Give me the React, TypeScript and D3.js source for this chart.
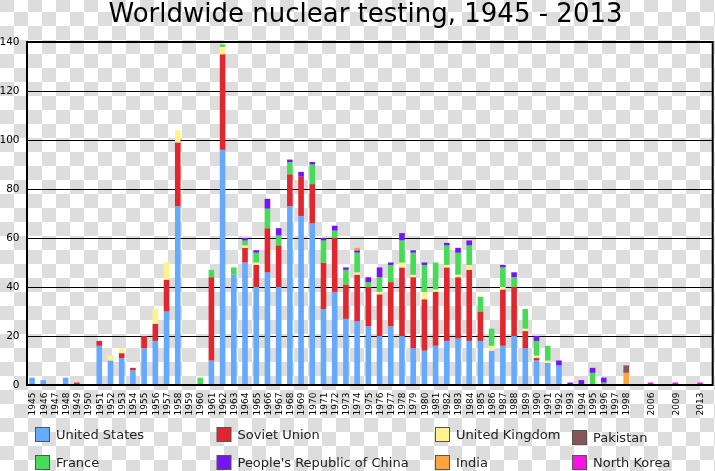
import React from "react";
import * as d3 from "d3";

const years = [
  "1945", "1946", "1947", "1948", "1949", "1950", "1951", "1952", "1953", "1954",
  "1955", "1956", "1957", "1958", "1959", "1960", "1961", "1962", "1963", "1964",
  "1965", "1966", "1967", "1968", "1969", "1970", "1971", "1972", "1973", "1974",
  "1975", "1976", "1977", "1978", "1979", "1980", "1981", "1982", "1983", "1984",
  "1985", "1986", "1987", "1988", "1989", "1990", "1991", "1992", "1993", "1994",
  "1995", "1996", "1997", "1998", "2006", "2009", "2013",
];

// 1945 .. 1998, 2006, 2009, 2013
const unitedStates = [
  3, 2, 0, 3, 0, 0, 16, 10, 11, 6,
  15, 18, 30, 73, 0, 0, 10, 96, 45, 50,
  40, 46, 40, 73, 69, 66, 31, 38, 27, 26,
  24, 20, 24, 20, 15, 14, 16, 18, 19, 18,
  18, 14, 16, 20, 15, 10, 9, 8, 0, 0,
  0, 0, 0, 0, 0, 0, 0,
];
const sovietUnion = [
  0, 0, 0, 0, 1, 0, 2, 0, 2, 1,
  5, 7, 13, 26, 0, 0, 34, 39, 0, 6,
  9, 18, 17, 13, 16, 16, 19, 22, 14, 19,
  16, 17, 18, 28, 29, 21, 22, 30, 25, 29,
  12, 0, 23, 20, 7, 1, 0, 0, 0, 0,
  0, 0, 0, 0, 0, 0, 0,
];
const unitedKingdom = [
  0, 0, 0, 0, 0, 0, 0, 2, 2, 0,
  0, 6, 7, 5, 0, 0, 0, 3, 0, 1,
  1, 0, 0, 0, 0, 0, 0, 0, 0, 1,
  0, 1, 0, 2, 1, 3, 1, 1, 1, 2,
  0, 2, 1, 0, 1, 1, 1, 0, 0, 0,
  0, 0, 0, 0, 0, 0, 0,
];
const france = [
  0, 0, 0, 0, 0, 0, 0, 0, 0, 0,
  0, 0, 0, 0, 0, 3, 3, 1, 3, 2,
  4, 8, 4, 5, 0, 8, 9, 3, 6, 8,
  2, 6, 7, 9, 9, 11, 11, 8, 9, 8,
  6, 7, 8, 4, 8, 6, 6, 0, 0, 0,
  5, 1, 0, 0, 0, 0, 0,
];
const china = [
  0, 0, 0, 0, 0, 0, 0, 0, 0, 0,
  0, 0, 0, 0, 0, 0, 0, 0, 0, 1,
  1, 4, 3, 1, 2, 1, 1, 2, 1, 1,
  2, 4, 1, 3, 1, 1, 0, 1, 2, 2,
  0, 0, 1, 2, 0, 2, 0, 2, 1, 2,
  2, 2, 0, 0, 0, 0, 0,
];
const india = [
  0, 0, 0, 0, 0, 0, 0, 0, 0, 0,
  0, 0, 0, 0, 0, 0, 0, 0, 0, 0,
  0, 0, 0, 0, 0, 0, 0, 0, 0, 1,
  0, 0, 0, 0, 0, 0, 0, 0, 0, 0,
  0, 0, 0, 0, 0, 0, 0, 0, 0, 0,
  0, 0, 0, 5, 0, 0, 0,
];
const pakistan = [
  0, 0, 0, 0, 0, 0, 0, 0, 0, 0,
  0, 0, 0, 0, 0, 0, 0, 0, 0, 0,
  0, 0, 0, 0, 0, 0, 0, 0, 0, 0,
  0, 0, 0, 0, 0, 0, 0, 0, 0, 0,
  0, 0, 0, 0, 0, 0, 0, 0, 0, 0,
  0, 0, 0, 3, 0, 0, 0,
];
const northKorea = [
  0, 0, 0, 0, 0, 0, 0, 0, 0, 0,
  0, 0, 0, 0, 0, 0, 0, 0, 0, 0,
  0, 0, 0, 0, 0, 0, 0, 0, 0, 0,
  0, 0, 0, 0, 0, 0, 0, 0, 0, 0,
  0, 0, 0, 0, 0, 0, 0, 0, 0, 0,
  0, 0, 0, 0, 1, 1, 1,
];

const countries = [
  "United States",
  "Soviet Union",
  "United Kingdom",
  "France",
  "People's Republic of China",
  "India",
  "Pakistan",
  "North Korea",
];
const countryColors = [
  "#66aaff",
  "#e0262e",
  "#fff28a",
  "#47dc57",
  "#7514f5",
  "#ffa33f",
  "#875656",
  "#ff10e6",
];
const yTicks = [0, 20, 40, 60, 80, 100, 120, 140];
const titleText = "Worldwide nuclear testing, 1945 - 2013";

// legend layout: [country index, column, row]
const legendOrder = [0, 1, 2, 6, 3, 4, 5, 7];

export default function App() {
  const W = 715;
  const H = 471;
  const left = 27;
  const right = 712.7;
  const top = 42;
  const bottom = 385;
  const font = "DejaVu Sans, sans-serif";

  const y = d3.scaleLinear().domain([0, 140]).range([bottom, top]);
  const mainYears = years.slice(0, 54);
  const laterYears = years.slice(54);
  const xMain = d3.scaleBand<string>().domain(mainYears).range([26.4, 631.8]);
  const xLate = d3.scaleBand<string>().domain(laterYears).range([638.1, 712.4]);
  const cx = (yr: string) =>
    mainYears.includes(yr)
      ? (xMain(yr) as number) + xMain.bandwidth() / 2
      : (xLate(yr) as number) + xLate.bandwidth() / 2;

  const series = [unitedStates, sovietUnion, unitedKingdom, france, china, india, pakistan, northKorea];
  const table = years.map((yr, i) => {
    const o: any = { year: yr };
    countries.forEach((c, k) => (o[c] = series[k][i]));
    return o;
  });
  const stacked = d3.stack<any>().keys(countries)(table);
  const barW = 5.6;

  const legendCols = [35, 216.5, 435, 572];
  const legendRows = [427, 455];

  return (
    <svg
      width={W}
      height={H}
      style={{ position: "fixed", left: 0, top: 0, display: "block" }}
      xmlns="http://www.w3.org/2000/svg"
    >
      <defs>
        <pattern id="checker" width={28} height={28} patternUnits="userSpaceOnUse" x={0} y={-2}>
          <rect width={28} height={28} fill="#ffffff" />
          <rect width={14} height={14} fill="#dddddd" />
          <rect x={14} y={14} width={14} height={14} fill="#dddddd" />
        </pattern>
      </defs>
      <rect width={W} height={H} fill="url(#checker)" />

      <text x={365.5} y={22} textAnchor="middle" fontFamily={font} fontSize={26} fill="#000">
        {titleText}
      </text>

      {/* gridlines */}
      {yTicks
        .filter((v) => v > 0 && v < 140)
        .map((v) => (
          <line key={v} x1={left} x2={right} y1={Math.round(y(v)) + 0.5} y2={Math.round(y(v)) + 0.5} stroke="#000" strokeWidth={1} />
        ))}

      {/* bars */}
      {stacked.map((s, k) => (
        <g key={s.key} fill={countryColors[k]}>
          {s.map((d, i) =>
            d[1] > d[0] ? (
              <rect key={i} x={cx(years[i]) - barW / 2} y={y(d[1])} width={barW} height={y(d[0]) - y(d[1])} />
            ) : null
          )}
        </g>
      ))}

      {/* frame */}
      <rect x={left} y={top} width={right - left} height={bottom - top} fill="none" stroke="#000" strokeWidth={2} />

      {/* y tick labels */}
      {yTicks.map((v) => (
        <text key={v} x={19.5} y={y(v) + 3} textAnchor="end" fontFamily={font} fontSize={10.5} fill="#000">
          {v}
        </text>
      ))}

      {/* x tick labels */}
      {years.map((yr) => (
        <text
          key={yr}
          transform={`translate(${cx(yr) + 3.3},${392.5}) rotate(-90)`}
          textAnchor="end"
          fontFamily={font}
          fontSize={9}
          fill="#000"
        >
          {yr}
        </text>
      ))}

      {/* legend */}
      {legendOrder.map((ci, j) => {
        const col = j % 4;
        const row = Math.floor(j / 4);
        const bx = legendCols[col];
        const by = legendRows[row] + (ci === 6 ? 3 : 0);
        return (
          <g key={ci}>
            <rect x={bx + 0.5} y={by + 0.5} width={14} height={14} fill={countryColors[ci]} stroke="#555" strokeWidth={1} />
            <text x={bx + 21} y={by + 12} fontFamily={font} fontSize={13} fill="#222">
              {countries[ci]}
            </text>
          </g>
        );
      })}
    </svg>
  );
}
